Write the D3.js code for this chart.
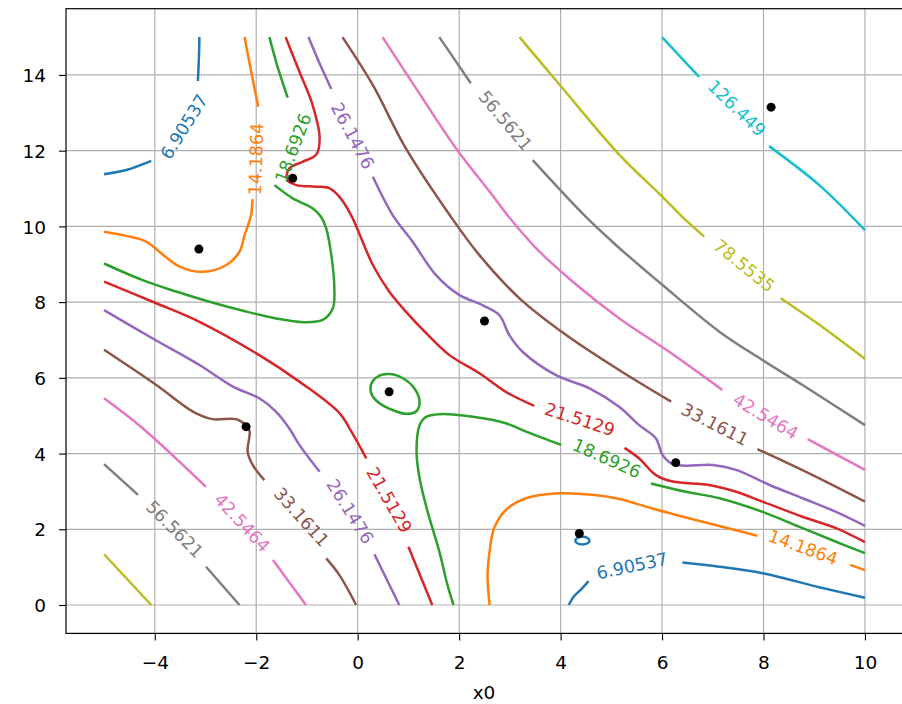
<!DOCTYPE html>
<meta charset="utf-8">
<head>
  <title>Contour plot</title>
</head>

<style>
body {
  margin: 0;
  background: #fff;
}
text {
  font-family: "DejaVu Sans", sans-serif;
}
.grid line {
  stroke: #b0b0b0;
  stroke-width: 1.2px;
}
.contour {
  fill: none;
  stroke-width: 2.5px;
  stroke-linecap: butt;
}
.clabel {
  font-size: 17.5px;
  text-anchor: middle;
  dominant-baseline: central;
}
.axis text {
  font-size: 18.5px;
  fill: #000;
}
.axis line, .axis path {
  stroke: #000;
  stroke-width: 1.1px;
}
</style>

<body>
  <svg width="902" height="704">
    <g class="grid"></g>
    <g class="contours"></g>
    <g class="labels"></g>
    <g class="dots"></g>
  </svg>

  <script src="https://cdnjs.cloudflare.com/ajax/libs/d3/7.8.5/d3.min.js"></script>
  <script>
var xTicks = [-4, -2, 0, 2, 4, 6, 8, 10]
var yTicks = [0, 2, 4, 6, 8, 10, 12, 14]

var levels = [6.90537, 14.1864, 18.6926, 21.5129, 26.1476, 33.1611, 42.5464, 56.5621, 78.5535, 126.449]

// contour pieces, in data units (gaps are where labels sit)
var lines_6_90537 = [
  [[-5, 11.38], [-4.56, 11.49], [-4.07, 11.73]],
  [[-3.15, 13.84], [-3.13, 14.44], [-3.12, 15]],
  [[4.16, 0], [4.27, 0.24], [4.41, 0.42], [4.55, 0.63]],
  [[6.40, 1.12], [7.13, 1.01], [7.98, 0.84], [9.10, 0.47], [10, 0.19]]
]
var loops_6_90537 = [
  [[4.29, 1.70], [4.33, 1.77], [4.43, 1.80], [4.53, 1.77], [4.57, 1.70], [4.53, 1.63], [4.43, 1.60], [4.33, 1.63]]
]
var lines_14_1864 = [
  [[-2.23, 15], [-2.10, 14.09], [-1.96, 13.16]],
  [[-2.07, 10.72], [-2.08, 10.58], [-2.10, 10.30], [-2.23, 9.77], [-2.33, 9.33], [-2.59, 8.98], [-3.05, 8.80],
   [-3.51, 8.94], [-3.91, 9.33], [-4.17, 9.60], [-4.56, 9.75], [-5, 9.86]],
  [[2.60, 0], [2.56, 0.79], [2.60, 1.41], [2.69, 2.03], [2.92, 2.51], [3.32, 2.82], [3.97, 2.95], [4.63, 2.91],
   [5.16, 2.80], [5.81, 2.55], [6.80, 2.20], [7.88, 1.83]],
  [[9.71, 1.06], [10, 0.92]]
]
var lines_18_6926 = [
  [[-1.74, 15], [-1.58, 14.22], [-1.38, 13.40]],
  [[-1.64, 11.09], [-1.28, 10.74], [-0.89, 10.48], [-0.72, 10.25], [-0.62, 9.95], [-0.52, 9.24], [-0.46, 8.36],
   [-0.49, 7.84], [-0.69, 7.53], [-1.08, 7.47], [-1.61, 7.57], [-2.20, 7.75], [-2.92, 8.01], [-3.58, 8.28],
   [-4.24, 8.58], [-5, 9.02]],
  [[1.89, 0], [1.77, 0.53], [1.61, 1.41], [1.38, 2.46], [1.22, 3.35], [1.16, 4.05], [1.22, 4.75], [1.35, 4.97],
   [1.61, 5.04], [2.27, 4.97], [2.92, 4.80], [3.32, 4.58], [4.01, 4.23]],
  [[5.78, 3.21], [6.47, 2.99], [7.13, 2.82], [7.98, 2.46], [8.77, 2.03], [9.43, 1.67], [10, 1.37]]
]
var loops_18_6926 = [
  [[0.26, 5.81], [0.39, 6.03], [0.62, 6.10], [0.89, 5.99], [1.12, 5.72], [1.22, 5.37], [1.15, 5.11],
   [0.95, 5.05], [0.69, 5.15], [0.43, 5.33], [0.28, 5.55]]
]
var lines_21_5129 = [
  [[-1.42, 15], [-1.15, 14.09], [-0.89, 13.21], [-0.75, 12.33], [-0.82, 11.89], [-1.08, 11.71], [-1.35, 11.53],
   [-1.39, 11.23], [-1.21, 11.09], [-0.82, 11.05], [-0.56, 11.01], [-0.36, 10.78], [-0.13, 10.30], [0.30, 8.98],
   [0.62, 8.28], [0.95, 7.75], [1.35, 7.18], [1.81, 6.60], [2.40, 6.12], [2.92, 5.63], [3.48, 5.26]],
  [[5.26, 4.15], [5.55, 3.87], [5.88, 3.43], [6.21, 3.26], [6.93, 3.17], [7.46, 2.99], [7.98, 2.73], [8.77, 2.33],
   [9.43, 2.03], [10, 1.66]],
  [[-5, 8.54], [-3.97, 7.97], [-3.12, 7.48], [-1.94, 6.60], [-1.15, 5.90], [-0.36, 5.07], [-0.12, 4.57], [0.17, 3.87]],
  [[1.0, 1.54], [1.47, 0]]
]
var lines_26_1476 = [
  [[-0.97, 15], [-0.75, 14.3], [-0.52, 13.63]],
  [[0.30, 11.31], [0.69, 10.30], [1.08, 9.60], [1.54, 8.72], [2.0, 8.19], [2.46, 7.92], [2.79, 7.66], [2.99, 7.13],
   [3.25, 6.69], [3.91, 6.07], [4.57, 5.72], [5.16, 5.23], [5.55, 4.75], [5.88, 4.40], [6.01, 3.96], [6.21, 3.72],
   [6.47, 3.68], [7.0, 3.70], [7.46, 3.57], [8.12, 3.17], [8.77, 2.82], [9.43, 2.46], [10, 2.09]],
  [[-5, 7.79], [-4.04, 7.04], [-3.12, 6.34], [-2.46, 5.77], [-1.94, 5.46], [-1.61, 5.11], [-1.35, 4.67],
   [-1.15, 4.23], [-0.75, 3.52]],
  [[0.33, 1.34], [0.82, 0]]
]
var lines_33_1611 = [
  [[-0.30, 15], [0.30, 13.73], [0.95, 12.06], [1.84, 10.25], [2.40, 9.24], [3.19, 8.10], [4.11, 7.13],
   [5.16, 6.20], [6.18, 5.37]],
  [[7.88, 4.12], [8.97, 3.43], [10, 2.73]],
  [[-5, 6.74], [-3.97, 5.81], [-3.25, 5.11], [-2.86, 4.91], [-2.40, 4.91], [-2.20, 4.75], [-2.13, 4.58],
   [-2.17, 4.05], [-2.07, 3.70], [-1.84, 3.30]],
  [[-0.62, 1.23], [-0.36, 0.79], [-0.03, 0]]
]
var lines_42_5464 = [
  [[0.49, 15], [1.28, 13.38], [1.94, 12.06], [2.60, 10.92], [2.98, 10.25], [3.52, 9.42], [4.24, 8.54],
   [5.16, 7.57], [6.14, 6.69], [7.19, 5.68]],
  [[8.87, 4.38], [10, 3.57]],
  [[-5, 5.46], [-4.24, 4.67], [-2.99, 3.12]],
  [[-1.67, 1.19], [-1.02, 0]]
]
var lines_56_5621 = [
  [[1.61, 15], [2.23, 13.78]],
  [[3.45, 11.75], [4.50, 10.25], [5.09, 9.51], [6.01, 8.45], [7.13, 7.22], [7.98, 6.47], [8.77, 5.81], [10, 4.75]],
  [[-5, 3.72], [-4.33, 2.91]],
  [[-2.99, 1.01], [-2.33, 0]]
]
var lines_78_5535 = [
  [[3.19, 15], [3.97, 13.76], [5.16, 11.89], [6.01, 10.78], [6.40, 10.25], [6.83, 9.73]],
  [[8.34, 8.10], [9.10, 7.40], [10, 6.50]],
  [[-5, 1.34], [-4.07, 0]]
]
var lines_126_449 = [
  [[6.0, 15], [6.73, 13.95]],
  [[8.11, 12.12], [9.10, 11.09], [10, 9.90]]
]

// label: level, x, y, angle
var labelSpots = [
  [6.90537, -3.42, 12.63, -58], [6.90537, 5.41, 1.03, -12],
  [14.1864, -2.0, 11.78, -88], [14.1864, 8.78, 1.52, 20],
  [18.6926, -1.27, 12.07, -69], [18.6926, 4.91, 3.87, 24],
  [21.5129, 4.38, 4.90, 18], [21.5129, 0.62, 2.77, 60],
  [26.1476, -0.10, 12.39, 62], [26.1476, -0.15, 2.47, 58],
  [33.1611, 7.04, 4.77, 27], [33.1611, -1.11, 2.32, 48],
  [42.5464, 8.04, 4.98, 31], [42.5464, -2.28, 2.17, 47],
  [56.5621, 2.91, 12.79, 50], [56.5621, -3.61, 2.0, 45],
  [78.5535, 7.62, 8.96, 39],
  [126.449, 7.47, 13.12, 44]
]

var sampleX = [-3.13, -1.28, 2.50, 0.62, -2.20, 6.27, 4.37, 8.15]
var sampleY = [9.40, 11.27, 7.50, 5.63, 4.71, 3.76, 1.89, 13.15]

var lineSets = [lines_6_90537, lines_14_1864, lines_18_6926, lines_21_5129, lines_26_1476,
  lines_33_1611, lines_42_5464, lines_56_5621, lines_78_5535, lines_126_449]
var loopSets = {6.90537: loops_6_90537, 18.6926: loops_18_6926}

var color = d3.scaleOrdinal().domain(levels).range(d3.schemeCategory10)

var padL = 66, padR = 903, padT = 8.7, padB = 633.4
var x = d3.scaleLinear().domain([-5.75, 10.75]).range([padL, padR])
var y = d3.scaleLinear().domain([-0.75, 15.75]).range([padB, padT])

var svg = d3.select('svg')

var grid = svg.select('.grid')
grid.selectAll('.gx').data(xTicks).enter().append('line')
  .attr('x1', d => x(d)).attr('x2', d => x(d))
  .attr('y1', padT).attr('y2', padB)
grid.selectAll('.gy').data(yTicks).enter().append('line')
  .attr('x1', padL).attr('x2', padR)
  .attr('y1', d => y(d)).attr('y2', d => y(d))

var line = d3.line().x(d => x(d[0])).y(d => y(d[1])).curve(d3.curveCatmullRom.alpha(0.5))
var loop = d3.line().x(d => x(d[0])).y(d => y(d[1])).curve(d3.curveCatmullRomClosed.alpha(0.5))

var cg = svg.select('.contours')
levels.forEach(function(lv, i) {
  lineSets[i].forEach(function(seg) {
    cg.append('path').attr('class', 'contour').attr('d', line(seg)).attr('stroke', color(lv))
  })
  ;(loopSets[lv] || []).forEach(function(seg) {
    cg.append('path').attr('class', 'contour').attr('d', loop(seg)).attr('stroke', color(lv))
  })
})

svg.select('.labels').selectAll('text')
  .data(labelSpots)
  .enter()
  .append('text')
  .attr('class', 'clabel')
  .attr('fill', d => color(d[0]))
  .attr('transform', d => 'translate(' + x(d[1]) + ',' + y(d[2]) + ') rotate(' + d[3] + ')')
  .text(d => String(d[0]))

svg.select('.dots').selectAll('circle')
  .data(sampleX)
  .enter()
  .append('circle')
  .attr('cx', d => x(d))
  .attr('cy', (d, i) => y(sampleY[i]))
  .attr('r', 4.5)
  .attr('fill', '#000')

// axes
var xAxis = svg.append('g').attr('class', 'axis')
  .attr('transform', 'translate(0,' + padB + ')')
  .call(d3.axisBottom(x).tickValues(xTicks).tickSizeOuter(0).tickSize(7))
xAxis.select('.domain').remove()
xAxis.selectAll('text').attr('y', 36).attr('dy', 0)

var yAxis = svg.append('g').attr('class', 'axis')
  .attr('transform', 'translate(' + padL + ',0)')
  .call(d3.axisLeft(y).tickValues(yTicks).tickSizeOuter(0).tickSize(7))
yAxis.select('.domain').remove()
yAxis.selectAll('text').attr('x', -20).attr('dy', '0.36em')

svg.append('rect')
  .attr('x', padL).attr('y', padT)
  .attr('width', padR - padL).attr('height', padB - padT)
  .attr('fill', 'none').attr('stroke', '#000').attr('stroke-width', 1.2)

svg.append('text')
  .attr('x', (padL + 902) / 2).attr('y', 699)
  .attr('text-anchor', 'middle')
  .style('font-size', '18.5px')
  .text('x0')
  </script>
</body>
</html>
